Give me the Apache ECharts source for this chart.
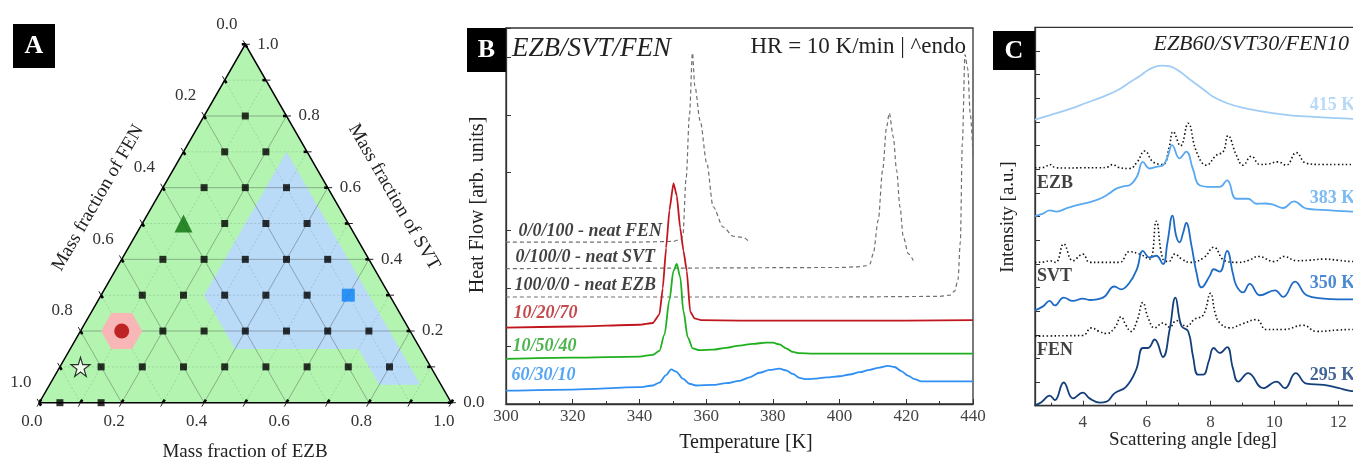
<!DOCTYPE html>
<html><head><meta charset="utf-8">
<script src="https://cdn.jsdelivr.net/npm/echarts@6/dist/echarts.min.js"></script>
<style>html,body{margin:0;padding:0;background:#fff}#c{width:1353px;height:458px}</style>
</head><body><div id="c"></div>
<script>
// ---------------- Panel A data (ternary EZB / SVT / FEN) ----------------
const ternTicks = [0,0.1,0.2,0.3,0.4,0.5,0.6,0.7,0.8,0.9,1.0];
const ternGridK = [0.1,0.2,0.3,0.4,0.5,0.6,0.7,0.8,0.9];
const sampleEZB = [0.1, 0.1,0.2, 0.1,0.2,0.3, 0.2,0.3,0.4, 0.1,0.2,0.3,0.4,0.5, 0.1,0.2,0.3,0.4,0.5, 0.2,0.3,0.4,0.5,0.6,0.7, 0.1,0.2,0.3,0.4,0.5,0.6,0.7,0.8, 0.05,0.15];
const sampleSVT = [0.8, 0.7,0.7, 0.6,0.6,0.6, 0.5,0.5,0.5, 0.4,0.4,0.4,0.4,0.4, 0.3,0.3,0.3,0.3,0.3, 0.2,0.2,0.2,0.2,0.2,0.2, 0.1,0.1,0.1,0.1,0.1,0.1,0.1,0.1, 0,0];
const hlEZB = [0.1, 0.1, 0.6, 0.05];
const hlSVT = [0.2, 0.5, 0.3, 0.1];
const blueRegionEZB = [0.25,0.25,0.4,0.7,0.8,0.9];
const blueRegionSVT = [0.7,0.3,0.15,0.15,0.05,0.05];
const pinkHexEZB = [0.05,0.1,0.15,0.15,0.1,0.05];
const pinkHexSVT = [0.25,0.25,0.2,0.15,0.15,0.2];

// ---------------- Panel B data (DSC) ----------------
const tFEN = [300,340,350,352.5,353,354,355,355.9,356.6,358.2,360.2,362.1,365.1,368.1,371.1,372.6];
const vFEN = [2.80,2.80,2.81,2.85,2.9,3.9,5.0,6.07,5.5,4.9,4.16,3.41,3.06,2.90,2.88,2.82];
const tSVT = [300,350,400,405,408,409.1,410.1,411.6,412.9,414.1,414.9,416.1,417.1,418.1,419.1,420.6,422.1];
const vSVT = [2.34,2.35,2.36,2.37,2.39,2.42,2.60,3.18,4.04,4.79,5.03,4.62,4.04,3.41,2.89,2.60,2.48];
const tEZB = [300,350,400,430,433,434.5,435.5,436.2,436.8,437.6,438.4,439.2,440];
const vEZB = [1.85,1.85,1.85,1.86,1.88,1.95,2.15,2.8,4.5,6.04,5.8,5.0,4.3];
const tRed = [300,320,340,344,346,347,348,349,350.2,351.2,352.2,353.2,354.2,355.2,356.5,358.5,370,400,420,440];
const vRed = [1.32,1.34,1.37,1.40,1.55,2.0,2.7,3.35,3.82,3.6,3.05,2.65,2.3,1.6,1.48,1.45,1.44,1.44,1.44,1.45];
const tGreen = [300,320,340,344,346,347.5,349,350.2,351.2,352.2,353.2,354.5,356,358,362,366,370,374,378,380,382,384,386,388,392,400,440];
const vGreen = [0.78,0.80,0.82,0.85,0.92,1.2,1.8,2.3,2.42,2.2,1.6,1.15,0.96,0.93,0.94,0.97,1.01,1.04,1.06,1.06,1.03,0.96,0.90,0.88,0.87,0.87,0.87];
const tBlue = [300,320,340,344,346,348,349.5,351,353,355,357,362,366,370,373,376,379,382,384,386,388,390,393,396,400,403,406,409,412,414.5,416.5,418.5,420.5,422.5,424.5,430,440];
const vBlue = [0.23,0.25,0.29,0.32,0.37,0.50,0.60,0.56,0.44,0.35,0.32,0.33,0.36,0.40,0.46,0.54,0.59,0.61,0.58,0.52,0.45,0.43,0.44,0.46,0.48,0.51,0.55,0.59,0.63,0.66,0.64,0.57,0.49,0.43,0.39,0.39,0.39];
const dscLabelText = ['0/0/100 - neat FEN','0/100/0 - neat SVT','100/0/0 - neat EZB','10/20/70','10/50/40','60/30/10'];
const dscLabelT = [303.6,302.7,302.4,302.1,301.8,301.5];
const dscLabelY = [2.99,2.53,2.05,1.57,0.99,0.49];

// ---------------- Panel C data (XRD) ----------------
const a415 = [2.5,3.0,3.6,4.1,4.6,5.1,5.5,5.8,6.0,6.3,6.5,6.7,6.9,7.1,7.4,7.8,8.1,8.5,9.0,9.5,10.0,10.5,11.0,11.5,12.0,12.5,13.5];
const i415 = [12.1,12.3,12.55,12.8,13.05,13.35,13.7,13.95,14.15,14.35,14.38,14.36,14.25,14.07,13.75,13.35,13.05,12.8,12.6,12.47,12.36,12.28,12.23,12.19,12.16,12.13,12.1];
const aRefEZB = [2.5,2.8,2.96,3.15,3.5,4.0,4.5,4.8,4.94,5.1,5.46,5.7,5.94,6.2,6.51,6.7,6.83,7.06,7.30,7.56,7.87,8.19,8.40,8.55,8.81,9.02,9.28,9.55,9.8,10.11,10.37,10.69,11.0,11.5,12.0,12.5,13.5];
const iRefEZB = [10.06,10.08,10.2,10.06,10.05,10.06,10.06,10.1,10.2,10.08,10.03,10.3,10.77,10.31,10.2,10.9,11.59,10.99,11.94,10.74,10.17,10.6,10.74,11.42,10.6,10.17,10.55,10.2,10.22,10.31,10.17,10.7,10.25,10.2,10.2,10.2,10.2];
const a383 = [2.5,2.75,2.96,3.17,3.5,3.79,4.2,4.53,4.8,5.05,5.3,5.46,5.7,5.88,6.09,6.3,6.51,6.65,6.80,7.03,7.24,7.45,7.66,8.03,8.29,8.52,8.81,9.18,9.44,9.7,9.96,10.28,10.61,11.01,11.5,12.0,12.42,13.5];
const i383 = [8.02,8.12,8.26,8.21,8.35,8.47,8.6,8.75,8.95,9.18,9.28,9.32,9.7,10.31,10.03,10.1,10.17,10.5,11.02,10.46,10.74,10.0,9.32,9.25,9.25,9.53,8.75,8.75,8.54,8.55,8.5,8.36,8.64,8.33,8.28,8.24,8.21,8.2];
const aRefSVT = [2.5,2.8,2.96,3.15,3.40,3.69,4.0,4.21,4.6,5.15,5.46,5.78,6.09,6.3,6.51,6.7,6.88,7.1,7.37,7.8,8.10,8.45,8.87,9.2,9.5,10.0,10.3,10.7,11.1,11.55,12.0,12.42,13.5];
const iRefSVT = [6.06,6.08,6.13,6.06,6.84,6.13,6.41,6.06,6.06,6.06,6.51,6.41,6.2,7.8,6.2,6.1,6.41,6.2,6.06,6.27,6.70,6.13,6.06,6.15,6.31,6.09,6.31,6.13,6.15,6.2,6.15,6.1,6.1];
const a350 = [2.5,2.75,2.96,3.12,3.40,3.69,4.0,4.21,4.63,4.99,5.2,5.46,5.7,5.88,6.09,6.3,6.51,6.65,6.81,6.92,7.03,7.14,7.24,7.4,7.56,7.72,7.98,8.1,8.29,8.52,8.7,8.81,9.02,9.23,9.55,10.02,10.28,10.65,11.01,11.55,12.0,12.42,13.5];
const i350 = [4.03,4.2,4.43,4.24,4.57,4.43,4.53,4.47,4.57,5.04,4.92,5.2,5.8,6.55,6.27,6.34,5.99,6.9,8.04,7.2,6.91,7.3,7.73,6.8,5.63,5.0,5.5,5.77,5.67,6.55,5.6,5.08,4.79,5.15,4.67,4.88,4.6,5.25,4.67,4.53,4.5,4.5,4.5];
const aRefFEN = [2.5,3.0,3.5,4.0,4.27,4.5,4.74,5.0,5.2,5.35,5.51,5.7,5.88,6.05,6.25,6.51,6.72,6.93,7.1,7.24,7.5,7.77,8.0,8.15,8.29,8.6,9.02,9.44,9.75,10.28,10.9,11.33,12.0,12.42,13.5];
const iRefFEN = [2.94,2.95,2.96,2.97,3.29,3.15,3.05,3.3,3.76,3.4,3.14,3.6,4.36,3.7,3.29,3.5,3.32,3.6,3.45,3.35,3.66,3.83,4.75,3.9,3.5,3.29,3.47,3.64,3.22,3.22,3.4,3.14,3.2,3.22,3.22];
const a295 = [2.5,2.7,2.96,3.12,3.40,3.69,4.0,4.21,4.53,4.74,4.99,5.36,5.67,5.88,6.04,6.25,6.51,6.72,6.9,7.09,7.3,7.45,7.61,7.77,7.95,8.1,8.29,8.52,8.7,8.87,9.18,9.65,10.07,10.33,10.67,11.01,11.55,12.0,12.42,13.5];
const i295 = [0.02,0.15,0.43,0.24,0.98,0.31,0.55,0.31,0.13,0.17,0.52,0.81,1.52,2.44,2.44,2.80,2.06,3.22,4.57,3.37,3.15,2.1,1.31,1.31,1.9,2.44,2.23,2.48,1.6,1.02,1.38,0.74,1.02,0.74,1.38,0.93,0.88,0.75,0.62,0.57];
const xrdLabelText = ['415 K','EZB','383 K','SVT','350 K','FEN','295 K'];
const xrdLabelX = [12.55,2.55,12.55,2.55,12.55,2.55,12.55];
const xrdLabelY = [12.71,9.40,8.77,5.48,5.18,2.36,1.30];

// ---------------- helpers / styles ----------------
const SERIF = 'Liberation Serif';
const toXY = (e, s) => [e + s / 2, s];
const zip = (xs, ys) => xs.map((x, i) => [x, ys[i]]);
const isMajor = t => Math.abs(t * 5 - Math.round(t * 5)) < 1e-6;

function polygonSeries(ezb, svt, style, z) {
  const pts = ezb.map((e, i) => toXY(e, svt[i]));
  return {
    type: 'custom', xAxisIndex: 0, yAxisIndex: 0, z, silent: true, clip: false,
    data: [[0, 0]],
    renderItem: (params, api) => ({
      type: 'polygon', shape: { points: pts.map(p => api.coord(p)) }, style
    })
  };
}

const gridSegs = [];
ternGridK.forEach(k => {
  const m = isMajor(k) ? 1 : 0;
  gridSegs.push([...toXY(0, k), ...toXY(1 - k, k), m]);
  gridSegs.push([...toXY(k, 0), ...toXY(k, 1 - k), m]);
  gridSegs.push([...toXY(1 - k, 0), ...toXY(0, 1 - k), m]);
});
const tickItems = [];
ternTicks.forEach(t => {
  tickItems.push([...toXY(t, 0), 0, t]);      // EZB (bottom)
  tickItems.push([...toXY(0, 1 - t), 1, t]);  // FEN (left)
  tickItems.push([...toXY(1 - t, t), 2, t]);  // SVT (right)
});
const tickDirs = [[-0.5, 0.866], [-0.5, -0.866], [1, 0]];

const hlStyles = [
  { symbol: 'circle', size: 15, color: '#b00000', border: null },
  { symbol: 'triangle', size: 18, color: '#0a6e0a', border: null },
  { symbol: 'rect', size: 13, color: '#0a7ff5', border: null },
  { symbol: 'path://M50,0 L61,35 L98,35 L68,57 L79,91 L50,70 L21,91 L32,57 L2,35 L39,35 Z', size: 19, color: '#ffffff', border: '#000' }
];

const series = [];
// Panel A
series.push(polygonSeries([0, 1, 0], [0, 0, 1], { fill: '#b3f5b0' }, 1));
series.push(polygonSeries(blueRegionEZB, blueRegionSVT, { fill: '#b9dbf8' }, 2));
series.push({
  type: 'custom', xAxisIndex: 0, yAxisIndex: 0, z: 3, silent: true, clip: false,
  data: gridSegs, encode: { x: [0, 2], y: [1, 3] },
  renderItem: (params, api) => {
    const a = api.coord([api.value(0), api.value(1)]);
    const b = api.coord([api.value(2), api.value(3)]);
    const major = api.value(4) === 1;
    return { type: 'line', shape: { x1: a[0], y1: a[1], x2: b[0], y2: b[1] },
      style: { stroke: major ? 'rgba(60,60,60,0.42)' : 'rgba(60,60,60,0.2)', lineWidth: 0.9, lineDash: major ? null : [2, 2] } };
  }
});
series.push(polygonSeries(pinkHexEZB, pinkHexSVT, { fill: '#f8b6b6' }, 4));
series.push(polygonSeries([0, 1, 0], [0, 0, 1], { fill: 'none', stroke: '#000', lineWidth: 1.5 }, 5));
series.push({
  type: 'custom', xAxisIndex: 0, yAxisIndex: 0, z: 6, silent: true, clip: false,
  data: tickItems, encode: { x: 0, y: 1 },
  renderItem: (params, api) => {
    const p = api.coord([api.value(0), api.value(1)]);
    const side = api.value(2), t = api.value(3);
    const d = tickDirs[side];
    const children = [
      { type: 'line', shape: { x1: p[0] - d[0] * 3.5, y1: p[1] - d[1] * 3.5, x2: p[0], y2: p[1] },
        style: { stroke: '#000', lineWidth: 2.6 } },
      { type: 'line', shape: { x1: p[0], y1: p[1], x2: p[0] + d[0] * 4.5, y2: p[1] + d[1] * 4.5 },
        style: { stroke: '#222', lineWidth: 1 } }
    ];
    if (isMajor(t)) {
      let x, y, align = 'center';
      if (side === 0) { x = p[0] - 7.5; y = p[1] + 19; }
      else if (side === 1) { x = p[0] - 18.5; y = p[1] - 20; }
      else { x = p[0] + 12; y = p[1]; align = 'left'; }
      children.push({ type: 'text', x, y,
        style: { text: t.toFixed(1), fill: '#333', font: '17px "' + SERIF + '"', align, verticalAlign: 'middle' } });
    }
    return { type: 'group', children };
  }
});
series.push({
  type: 'scatter', xAxisIndex: 0, yAxisIndex: 0, z: 7, silent: true,
  symbol: 'rect', symbolSize: 7, itemStyle: { color: '#000' },
  data: sampleEZB.map((e, i) => toXY(e, sampleSVT[i]))
});
hlEZB.forEach((e, i) => {
  const st = hlStyles[i];
  series.push({
    type: 'scatter', xAxisIndex: 0, yAxisIndex: 0, z: 8, silent: true,
    symbol: st.symbol, symbolSize: st.size,
    itemStyle: { color: st.color, borderColor: st.border || undefined, borderWidth: st.border ? 1.2 : 0 },
    data: [toXY(e, hlSVT[i])]
  });
});

// Panel B
const lineBase = { type: 'line', showSymbol: false, symbol: 'none', smooth: 0.3, smoothMonotone: 'x', silent: true, xAxisIndex: 1, yAxisIndex: 1 };
const dashStyle = { color: '#707070', width: 1.2, type: [4, 3] };
series.push(Object.assign({}, lineBase, { data: zip(tFEN, vFEN), lineStyle: dashStyle, z: 2 }));
series.push(Object.assign({}, lineBase, { data: zip(tSVT, vSVT), lineStyle: dashStyle, z: 2 }));
series.push(Object.assign({}, lineBase, { data: zip(tEZB, vEZB), lineStyle: dashStyle, z: 2 }));
series.push(Object.assign({}, lineBase, { data: zip(tRed, vRed), smooth: 0.15, lineStyle: { color: '#c0161e', width: 1.8 }, z: 3 }));
series.push(Object.assign({}, lineBase, { data: zip(tGreen, vGreen), lineStyle: { color: '#1fb01f', width: 1.8 }, z: 3 }));
series.push(Object.assign({}, lineBase, { data: zip(tBlue, vBlue), lineStyle: { color: '#2f8ff2', width: 1.8 }, z: 3 }));
const dscLabelColors = ['#111', '#111', '#111', '#b41e23', '#22a322', '#2b8ef0'];
series.push({
  type: 'scatter', xAxisIndex: 1, yAxisIndex: 1, z: 5, silent: true, symbolSize: 1,
  itemStyle: { color: 'rgba(0,0,0,0)' },
  data: dscLabelT.map((t, i) => ({ value: [t, dscLabelY[i]],
    label: { show: true, position: 'right', distance: 0, formatter: dscLabelText[i], color: dscLabelColors[i],
      fontFamily: SERIF, fontSize: 18, fontWeight: 'bold', fontStyle: 'italic' } }))
});

// Panel C
const lineC = { type: 'line', showSymbol: false, symbol: 'none', smooth: 0.45, silent: true, xAxisIndex: 2, yAxisIndex: 2 };
const dotStyle = { color: '#111', width: 1.6, type: [1.5, 2.4] };
series.push(Object.assign({}, lineC, { data: zip(a415, i415), lineStyle: { color: '#a0ccf5', width: 1.8 } }));
series.push(Object.assign({}, lineC, { data: zip(aRefEZB, iRefEZB), lineStyle: dotStyle }));
series.push(Object.assign({}, lineC, { data: zip(a383, i383), lineStyle: { color: '#5aa9ef', width: 1.8 } }));
series.push(Object.assign({}, lineC, { data: zip(aRefSVT, iRefSVT), lineStyle: dotStyle }));
series.push(Object.assign({}, lineC, { data: zip(a350, i350), lineStyle: { color: '#1e6cc6', width: 1.8 } }));
series.push(Object.assign({}, lineC, { data: zip(aRefFEN, iRefFEN), lineStyle: dotStyle }));
series.push(Object.assign({}, lineC, { data: zip(a295, i295), lineStyle: { color: '#133f7a', width: 1.8 } }));
const xrdLabelColors = ['#a6cff5', '#111', '#5aa9ef', '#111', '#1e6cc6', '#111', '#133f7a'];
series.push({
  type: 'scatter', xAxisIndex: 2, yAxisIndex: 2, z: 5, silent: true, symbolSize: 1, clip: false,
  itemStyle: { color: 'rgba(0,0,0,0)' },
  data: xrdLabelX.map((x, i) => ({ value: [x, xrdLabelY[i]],
    label: { show: true, position: x > 7 ? 'left' : 'right', distance: 0, formatter: xrdLabelText[i], color: xrdLabelColors[i],
      fontFamily: SERIF, fontSize: 18, fontWeight: 'bold' } }))
});

const axisLineStyle = { show: true, onZero: false, lineStyle: { color: '#333', width: 1.3 } };
const tickIn = { show: true, inside: true, length: 5, lineStyle: { color: '#333', width: 1 } };
const minorIn = { show: true, splitNumber: 2, length: 3, lineStyle: { color: '#333', width: 1 } };
const labelStyle = { color: '#444', fontFamily: SERIF, fontSize: 17 };

const titleFont = px => px + 'px "' + SERIF + '"';
const graphics = [
  { type: 'rect', shape: { x: 13, y: 24, width: 42, height: 44 }, style: { fill: '#000' } },
  { type: 'text', x: 34, y: 46.5, style: { text: 'A', fill: '#fff', font: 'bold 26px "' + SERIF + '"', align: 'center', verticalAlign: 'middle' } },
  { type: 'text', x: 98, y: 198, rotation: Math.PI / 3, style: { text: 'Mass fraction of FEN', fill: '#222', font: titleFont(19), align: 'center', verticalAlign: 'middle' } },
  { type: 'text', x: 394, y: 197, rotation: -Math.PI / 3, style: { text: 'Mass fraction of SVT', fill: '#222', font: titleFont(19), align: 'center', verticalAlign: 'middle' } },
  { type: 'text', x: 245, y: 452, style: { text: 'Mass fraction of EZB', fill: '#222', font: titleFont(19), align: 'center', verticalAlign: 'middle' } },

  { type: 'rect', shape: { x: 467, y: 28, width: 39, height: 44 }, style: { fill: '#000' } },
  { type: 'text', x: 486.5, y: 50.5, style: { text: 'B', fill: '#fff', font: 'bold 26px "' + SERIF + '"', align: 'center', verticalAlign: 'middle' } },
  { type: 'text', x: 512, y: 49, style: { text: 'EZB/SVT/FEN', fill: '#222', font: 'italic 27px "' + SERIF + '"', align: 'left', verticalAlign: 'middle' } },
  { type: 'text', x: 966, y: 47, style: { text: 'HR = 10 K/min | ^endo', fill: '#222', font: titleFont(23), align: 'right', verticalAlign: 'middle' } },
  { type: 'text', x: 478, y: 205, rotation: Math.PI / 2, style: { text: 'Heat Flow [arb. units]', fill: '#222', font: titleFont(20), align: 'center', verticalAlign: 'middle' } },
  { type: 'text', x: 746, y: 443, style: { text: 'Temperature [K]', fill: '#222', font: titleFont(20), align: 'center', verticalAlign: 'middle' } },

  { type: 'rect', shape: { x: 993, y: 31, width: 42, height: 39 }, style: { fill: '#000' } },
  { type: 'text', x: 1014, y: 51, style: { text: 'C', fill: '#fff', font: 'bold 26px "' + SERIF + '"', align: 'center', verticalAlign: 'middle' } },
  { type: 'text', x: 1349, y: 44, style: { text: 'EZB60/SVT30/FEN10', fill: '#222', font: 'italic 22px "' + SERIF + '"', align: 'right', verticalAlign: 'middle' } },
  { type: 'text', x: 1008, y: 217, rotation: Math.PI / 2, style: { text: 'Intensity [a.u.]', fill: '#222', font: titleFont(19), align: 'center', verticalAlign: 'middle' } },
  { type: 'text', x: 1193, y: 440, style: { text: 'Scattering angle [deg]', fill: '#222', font: titleFont(19), align: 'center', verticalAlign: 'middle' } }
];

const chart = echarts.init(document.getElementById('c'), null, { renderer: 'canvas', width: 1353, height: 458 });
chart.setOption({
  animation: false,
  backgroundColor: '#fff',
  grid: [
    { left: 39.3, top: 44.3, width: 412, height: 358.4, containLabel: false, outerBoundsMode: 'none' },
    { left: 506, top: 28, width: 467, height: 376, show: true, borderColor: '#333', borderWidth: 1.3, containLabel: false, outerBoundsMode: 'none' },
    { left: 1035, top: 27.3, width: 351, height: 378.4, show: true, borderColor: '#333', borderWidth: 1.3, containLabel: false, outerBoundsMode: 'none' }
  ],
  xAxis: [
    { gridIndex: 0, type: 'value', min: 0, max: 1, show: false },
    { gridIndex: 1, type: 'value', min: 300, max: 440, interval: 20, axisLine: axisLineStyle, axisTick: tickIn, minorTick: minorIn,
      axisLabel: Object.assign({ margin: 4 }, labelStyle), splitLine: { show: false }, minorSplitLine: { show: false } },
    { gridIndex: 2, type: 'value', min: 2.5, max: 13.5, axisLine: axisLineStyle, axisTick: tickIn, minorTick: minorIn,
      axisLabel: Object.assign({ margin: 8, showMinLabel: false, showMaxLabel: false }, labelStyle), splitLine: { show: false } }
  ],
  yAxis: [
    { gridIndex: 0, type: 'value', min: 0, max: 1, show: false },
    { gridIndex: 1, type: 'value', min: 0, max: 6.5, interval: 1, axisLine: axisLineStyle, axisTick: tickIn, axisLabel: { show: false }, splitLine: { show: false } },
    { gridIndex: 2, type: 'value', min: 0, max: 16, interval: 1, axisLine: axisLineStyle, axisTick: tickIn, axisLabel: { show: false }, splitLine: { show: false } }
  ],
  graphic: { elements: graphics },
  series
});
</script></body></html>
